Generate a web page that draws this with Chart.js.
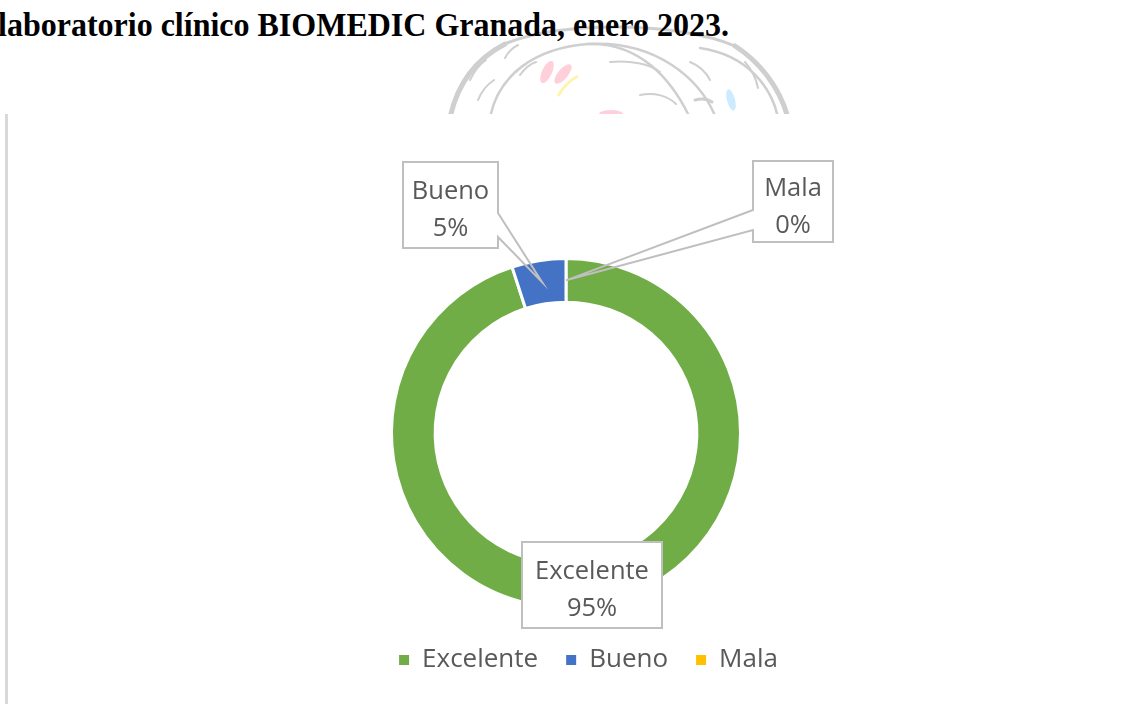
<!DOCTYPE html>
<html>
<head>
<meta charset="utf-8">
<script src="https://cdn.jsdelivr.net/npm/chart.js@4.4.1/dist/chart.umd.min.js"></script>
<style>
html,body{margin:0;padding:0;width:1146px;height:704px;overflow:hidden;background:#fff;}
#wm{position:absolute;left:0;top:0;}
#title{position:absolute;left:-2px;top:9px;font:bold 32px "Liberation Serif","Times New Roman",serif;color:#000;white-space:nowrap;line-height:1;transform:scaleY(1.06);transform-origin:0 100%;}
#frame{position:absolute;left:5px;top:114px;width:1141px;height:590px;background:#fff;border-left:3px solid #D9D9D9;box-sizing:border-box;}
#wrap{position:absolute;left:8px;top:115px;width:1138px;height:589px;}
</style>
</head>
<body>
<svg id="wm" width="1146" height="115" viewBox="0 0 1146 115">
  <g fill="none" stroke="#CFCFCF" stroke-linecap="round">
    <path d="M450,118 C458,80 478,58 505,44" stroke-width="5"/>
    <path d="M505,44 C560,20 680,22 735,46" stroke-width="3"/>
    <path d="M735,46 C760,62 780,88 788,118" stroke-width="5"/>
    <path d="M490,118 C498,75 535,48 588,44 C640,42 672,80 690,118" stroke-width="2.5"/>
    <path d="M588,44 C655,40 700,78 716,118" stroke-width="2.5"/>
    <path d="M700,48 C748,55 772,88 778,118" stroke-width="2.5"/>
    <path d="M470,80 C475,70 480,64 486,60" stroke-width="2"/>
    <path d="M478,100 C482,90 488,84 494,80" stroke-width="2"/>
    <path d="M505,58 C508,52 512,48 518,45" stroke-width="2"/>
    <path d="M520,75 C525,68 530,64 536,62" stroke-width="2"/>
    <path d="M610,62 C630,60 650,64 660,72" stroke-width="2"/>
    <path d="M640,95 C655,92 668,96 676,104" stroke-width="2"/>
    <path d="M690,62 C700,66 706,72 710,80" stroke-width="2"/>
    <path d="M745,62 C752,70 756,78 758,88" stroke-width="2"/>
    <path d="M695,100 C702,98 708,99 712,102" stroke-width="3"/>
  </g>
  <ellipse cx="547" cy="72" rx="5" ry="12" transform="rotate(25 547 72)" fill="#FFD0DA"/>
  <ellipse cx="563" cy="74" rx="5" ry="12" transform="rotate(40 563 74)" fill="#FFD0DA"/>
  <path d="M558,96 C564,86 570,80 578,76" stroke="#FFF3B0" stroke-width="3" fill="none"/>
  <ellipse cx="611" cy="114" rx="12" ry="4" fill="#FFD0DA"/>
  <ellipse cx="731" cy="100" rx="4" ry="11" transform="rotate(-15 731 100)" fill="#CDEBFF"/>
</svg>
<div id="title">laboratorio clínico BIOMEDIC Granada, enero 2023.</div>
<div id="frame"></div>
<div id="wrap"><canvas id="c"></canvas></div>
<script>
// ---- data ----
const categories = ['Excelente', 'Bueno', 'Mala'];
const values = [95, 5, 0];
const colors = ['#70AD47', '#4472C4', '#FFC000'];

// ---- callout box layout (offsets from doughnut centre, px) ----
const calloutLayout = [
  { dx: 26,     dy: 152,    w: 140, h: 86, wedge: null },
  { dx: -115.5, dy: -228,   w: 95,  h: 86, wedge: { side: 'right', from: 8,   to: 32 } },
  { dx: 227,    dy: -231.5, w: 80,  h: 81, wedge: { side: 'left',  from: 8.5, to: 28.5 } }
];

const FONT = '"Open Sans", "Noto Sans", sans-serif';
const TEXT_COLOR = '#595959';

const calloutPlugin = {
  id: 'callouts',
  afterDatasetsDraw(chart) {
    const ctx = chart.ctx;
    const meta = chart.getDatasetMeta(0);
    const total = values.reduce((a, b) => a + b, 0);
    meta.data.forEach((arc, i) => {
      const L = calloutLayout[i];
      const p = arc.getProps(['x', 'y', 'startAngle', 'endAngle', 'innerRadius', 'outerRadius'], true);
      const mid = (p.startAngle + p.endAngle) / 2;
      const r = (p.innerRadius + p.outerRadius) / 2;
      const tipX = p.x + Math.cos(mid) * r;
      const tipY = p.y + Math.sin(mid) * r;
      const cx = p.x + L.dx, cy = p.y + L.dy;
      const x0 = cx - L.w / 2, x1 = cx + L.w / 2, y0 = cy - L.h / 2, y1 = cy + L.h / 2;
      ctx.save();
      ctx.fillStyle = '#fff';
      ctx.fillRect(x0, y0, L.w, L.h);
      ctx.beginPath();
      ctx.moveTo(x0, y0);
      ctx.lineTo(x1, y0);
      if (L.wedge && L.wedge.side === 'right') {
        ctx.lineTo(x1, cy + L.wedge.from);
        ctx.lineTo(tipX, tipY);
        ctx.lineTo(x1, cy + L.wedge.to);
      }
      ctx.lineTo(x1, y1);
      ctx.lineTo(x0, y1);
      if (L.wedge && L.wedge.side === 'left') {
        ctx.lineTo(x0, cy + L.wedge.to);
        ctx.lineTo(tipX, tipY);
        ctx.lineTo(x0, cy + L.wedge.from);
      }
      ctx.closePath();
      ctx.strokeStyle = '#BFBFBF';
      ctx.lineWidth = 2;
      ctx.lineJoin = 'miter';
      ctx.stroke();
      ctx.fillStyle = TEXT_COLOR;
      ctx.font = '25.5px ' + FONT;
      ctx.textAlign = 'center';
      ctx.textBaseline = 'alphabetic';
      ctx.fillText(categories[i], cx, cy - 6);
      ctx.fillText(Math.round(values[i] / total * 100) + '%', cx, cy + 31);
      ctx.restore();
    });
  }
};

Chart.defaults.font.family = FONT;

new Chart(document.getElementById('c'), {
  type: 'doughnut',
  data: {
    labels: categories,
    datasets: [{
      data: values,
      backgroundColor: colors,
      borderColor: '#ffffff',
      borderWidth: 3,
      hoverOffset: 0
    }]
  },
  options: {
    responsive: true,
    maintainAspectRatio: false,
    animation: false,
    events: [],
    cutout: '75%',
    layout: { padding: { left: 23, right: 0, top: 142, bottom: 21 } },
    plugins: {
      tooltip: { enabled: false },
      subtitle: {
        display: true, position: 'right', text: '',
        font: { size: 1, lineHeight: 1 }, padding: { top: 44, bottom: 0 }
      },
      legend: {
        position: 'bottom',
        title: { display: true, text: '', font: { size: 10, lineHeight: 1 }, padding: 0 },
        labels: {
          boxWidth: 10, boxHeight: 10, padding: 28, color: TEXT_COLOR,
          font: { family: FONT, size: 26 },
          generateLabels(chart) {
            const items = Chart.overrides.doughnut.plugins.legend.labels.generateLabels(chart);
            items.forEach(it => { it.strokeStyle = 'rgba(0,0,0,0)'; it.lineWidth = 0; });
            return items;
          }
        }
      }
    }
  },
  plugins: [calloutPlugin]
});
</script>
</body>
</html>
